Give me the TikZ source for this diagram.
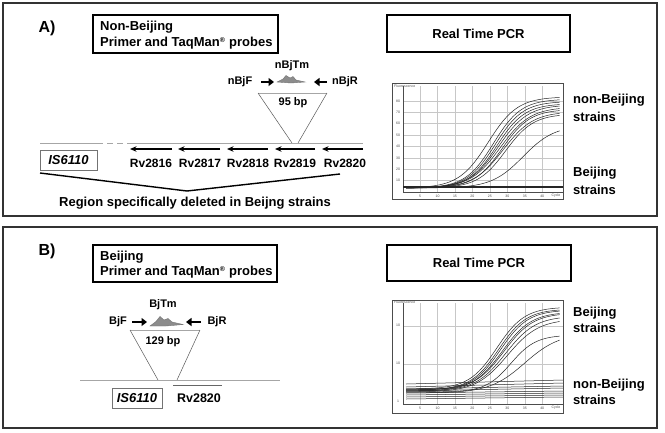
\documentclass[tikz,border=0pt]{standalone}
\usepackage{fontspec}
\setmainfont{Liberation Sans}
\usetikzlibrary{arrows.meta}
\newcommand\pcrA[3]{\draw[pcrline] plot[domain=1:45,samples=70,smooth] ({402.6+3.49*\x},{192-1.14*(3.5+#1/(1+exp(-(\x-#2)/#3)))});}
\newcommand\pcrB[4]{\draw[pcrline] plot[domain=1:45,samples=70,smooth] ({402.6+3.49*\x},{#1-#2/(1+exp(-(\x-#3)/#4))});}
\begin{document}
\begin{tikzpicture}[x=1pt,y=-1pt,
  panel/.style={draw=black!80,line width=1.3pt},
  hdrbox/.style={draw=black,line width=2pt},
  hdr/.style={font=\bfseries\fontsize{13}{15}\selectfont,anchor=west,inner sep=0pt},
  big/.style={font=\bfseries\fontsize{16}{18}\selectfont,inner sep=0pt},
  gene/.style={font=\bfseries\fontsize{12}{14}\selectfont,inner sep=0pt},
  prim/.style={font=\bfseries\fontsize{11}{13}\selectfont,inner sep=0pt},
  isbox/.style={draw=black!55,line width=0.6pt},
  istext/.style={font=\bfseries\itshape\fontsize{13}{15}\selectfont,inner sep=0pt},
  dna/.style={draw=black!35,line width=0.8pt},
  tri/.style={draw=black!65,line width=0.5pt},
  genearrow/.style={line width=1.5pt,-{Stealth[length=6.5pt,width=5.5pt]}},
  primarrow/.style={line width=2pt,-{Triangle[length=5.5pt,width=8pt]}},
  probe/.style={fill=black!45,draw=black!55,line width=0.4pt},
  frame/.style={draw=black!70,line width=0.7pt},
  grid/.style={draw=black!22,line width=0.4pt},
  axis/.style={draw=black!70,line width=0.5pt},
  tick/.style={font=\fontsize{3.5}{4}\selectfont,text=black!70,inner sep=0pt},
  pcrline/.style={draw=black!85,line width=0.5pt},
  strain/.style={font=\bfseries\fontsize{13}{15}\selectfont,anchor=west,inner sep=0pt}]
\useasboundingbox (0,0) rectangle (665,432);
\fill[white] (0,0) rectangle (665,432);
% ---------------- Panel A ----------------
\draw[panel] (3,3) rectangle (657,216);
\node[big] (labA) at (47,28) {A)};
\draw[hdrbox] (93,15) rectangle (278,53);
\node[hdr] (hA1) at (100,27) {Non-Beijing};
\node[hdr] (hA2) at (100,43) {Primer and TaqMan\textsuperscript{\fontsize{7}{8}\selectfont ®} probes};
\draw[hdrbox] (387,15) rectangle (570,52);
\node[font=\bfseries\fontsize{13}{15}\selectfont] (pcrA) at (478.5,33.5) {Real Time PCR};
% primers
\node[prim] (nBjTm) at (292,66) {nBjTm};
\node[prim] (nBjF) at (240,82) {nBjF};
\node[prim] (nBjR) at (345,82) {nBjR};
\coordinate (fA1) at (261,82); \coordinate (fA2) at (274,82);
\coordinate (rA1) at (327,82); \coordinate (rA2) at (314,82);
\draw[primarrow] (fA1) -- (fA2);
\draw[primarrow] (rA1) -- (rA2);
\draw[probe] (277,82) -- (283,79) -- (286,75.5) -- (290,78) -- (293,76.5) -- (296,80) -- (305,82) -- (291,83) -- cycle;
% triangle
\coordinate (tA1) at (258,93); \coordinate (tA2) at (327,93);
\coordinate (tA3) at (292,143); \coordinate (tA4) at (298,143);
\draw[dna] (tA1) -- (tA2);
\draw[tri] (tA1) -- (tA3);
\draw[tri] (tA2) -- (tA4);
\node[prim] (bpA) at (293,103) {95 bp};
% DNA line
\draw[dna] (40,143) -- (97,143);
\draw[dna,dash pattern=on 6pt off 4pt] (97,143) -- (130,143);
\draw[dna] (130,143) -- (363,143);
% gene arrows
\draw[genearrow] (172,149) -- (130,149);
\draw[genearrow] (220,149) -- (178,149);
\draw[genearrow] (268,149) -- (227,149);
\draw[genearrow] (315,149) -- (275,149);
\draw[genearrow] (363,149) -- (322,149);
\node[gene] (g16) at (151,163) {Rv2816};
\node[gene] (g17) at (200,163) {Rv2817};
\node[gene] (g18) at (248,163) {Rv2818};
\node[gene] (g19) at (295,163) {Rv2819};
\node[gene] (g20) at (345,163) {Rv2820};
\draw[isbox] (40,150) rectangle (97,170);
\node[istext] (isA) at (68.5,160) {IS6110};
% deletion bracket
\coordinate (dA1) at (40,173); \coordinate (dA2) at (187,191); \coordinate (dA3) at (340,174);
\draw[line width=1.4pt] (dA1) -- (dA2) -- (dA3);
\node[font=\bfseries\fontsize{13}{15}\selectfont,inner sep=0pt] (regA) at (195,203) {Region specifically deleted in Beijng strains};
% chart A
\foreach \c in {5,10,...,40} {\draw[grid] ({402.6+3.49*\c},86) -- ({402.6+3.49*\c},192);}
\foreach \v in {10,20,...,80} {\draw[grid] (403,{192-1.14*\v}) -- (563,{192-1.14*\v});}
\draw[axis] (403,86) -- (403,192) -- (563,192);
\draw[line width=1.2pt,black!85] (403,187) -- (563,187);
\pcrA{80}{24.5}{4.2}
\pcrA{78}{26}{4}
\pcrA{76}{26.5}{4}
\pcrA{74}{27}{4}
\pcrA{73}{27.5}{4.2}
\pcrA{71}{28}{4.3}
\pcrA{69}{28.5}{4}
\pcrA{67}{28.8}{4.3}
\pcrA{65}{29.5}{4}
\pcrA{55}{34.5}{4.5}
\draw[frame] (392,83) rectangle (563,199);
\foreach \c in {5,10,...,40} {\node[tick] at ({402.6+3.49*\c},196) {\c};}
\node[tick] at (556,196) {Cycle};
\foreach \v in {10,20,...,80} {\node[tick] at (398,{192-1.14*\v}) {\v};}
\node[tick,anchor=west] at (394,86.5) {Fluorescence};
\node[strain] (sA1) at (573,100) {non-Beijing};
\node[strain] (sA2) at (573,117) {strains};
\node[strain] (sA3) at (573,173) {Beijing};
\node[strain] (sA4) at (573,190) {strains};
% ---------------- Panel B ----------------
\draw[panel] (3,227) rectangle (657,428);
\node[big] (labB) at (47,251) {B)};
\draw[hdrbox] (93,245) rectangle (277,282);
\node[hdr] (hB1) at (100,257) {Beijing};
\node[hdr] (hB2) at (100,272) {Primer and TaqMan\textsuperscript{\fontsize{7}{8}\selectfont ®} probes};
\draw[hdrbox] (387,245) rectangle (571,281);
\node[font=\bfseries\fontsize{13}{15}\selectfont] (pcrB) at (479,263) {Real Time PCR};
\node[prim] (BjTm) at (163,305) {BjTm};
\node[prim] (BjF) at (118,322) {BjF};
\node[prim] (BjR) at (217,322) {BjR};
\coordinate (fB1) at (132,322); \coordinate (fB2) at (147,322);
\coordinate (rB1) at (201,322); \coordinate (rB2) at (186,322);
\draw[primarrow] (fB1) -- (fB2);
\draw[primarrow] (rB1) -- (rB2);
\draw[probe] (150,326) -- (156,321.5) -- (160,316.5) -- (164,320) -- (168,318.5) -- (172,322) -- (183,324.5) -- (166,326) -- cycle;
\coordinate (tB1) at (130,330); \coordinate (tB2) at (200,330);
\coordinate (tB3) at (158,380); \coordinate (tB4) at (177,380);
\draw[dna] (tB1) -- (tB2);
\draw[tri] (tB1) -- (tB3);
\draw[tri] (tB2) -- (tB4);
\node[prim] (bpB) at (163,342) {129 bp};
\draw[dna] (80,380) -- (280,380);
\draw[draw=black!60,line width=0.6pt] (173,385) -- (222,385);
\draw[isbox] (112,388) rectangle (162,408);
\node[istext] (isB) at (137,398) {IS6110};
\node[gene,font=\bfseries\fontsize{12.5}{14}\selectfont] (gB20) at (199,398) {Rv2820};
% chart B
\foreach \c in {5,10,...,40} {\draw[grid] ({402.6+3.49*\c},303) -- ({402.6+3.49*\c},404);}
\foreach \yy in {326,364} {\draw[grid] (403,\yy) -- (563,\yy);}
\draw[axis] (403,303) -- (403,404) -- (563,404);
\foreach \a/\b in {384/380,387/383,389/386,391/388,393/391,395/393,397/395,399/397} {\draw[pcrline] (406,\a) -- (563,\b);}
\pcrB{389}{82}{27}{4}
\pcrB{390}{81}{27.5}{4}
\pcrB{390}{80}{28}{4}
\pcrB{391}{79}{28.5}{4.2}
\pcrB{390}{77}{29}{4.2}
\pcrB{391}{75}{29.5}{4.3}
\pcrB{392}{73}{30}{4.5}
\pcrB{392}{57}{31}{3.6}
\pcrB{393}{60}{35}{5}
\draw[frame] (392,300) rectangle (563,413);
\foreach \c in {5,10,...,40} {\node[tick] at ({402.6+3.49*\c},408) {\c};}
\node[tick] at (556,408) {Cycle};
\node[tick] at (398,325) {10};
\node[tick] at (398,363) {10};
\node[tick] at (398,401) {1};
\node[tick,anchor=west] at (394,302.5) {Fluorescence};
\node[strain] (sB1) at (573,313) {Beijing};
\node[strain] (sB2) at (573,328) {strains};
\node[strain] (sB3) at (573,385) {non-Beijing};
\node[strain] (sB4) at (573,400) {strains};
\end{tikzpicture}
\end{document}
